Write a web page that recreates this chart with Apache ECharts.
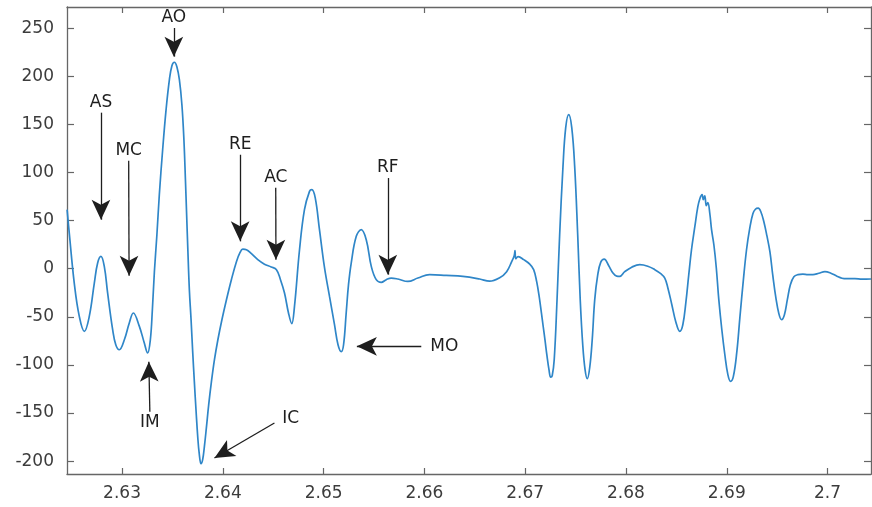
<!DOCTYPE html>
<html><head><meta charset="utf-8">
<script src="https://cdn.jsdelivr.net/npm/echarts@6/dist/echarts.min.js"></script>
<style>html,body{margin:0;padding:0;background:#fff}#c{width:872px;height:507px}</style>
</head><body><div id="c"></div>
<script>
// time (s)
const timeS = [
2.62455, 2.62477, 2.62526, 2.62576, 2.62626, 2.62675, 2.62725, 2.62758, 2.62791, 2.62824,
2.62857, 2.62907, 2.62938, 2.62973, 2.63023, 2.63072, 2.63112, 2.63172, 2.63221, 2.63254,
2.63281, 2.63301, 2.63321, 2.63346, 2.6337, 2.63403, 2.63437, 2.6347, 2.63495, 2.63519,
2.63544, 2.63569, 2.63594, 2.63614, 2.63629, 2.63641, 2.63653, 2.63668, 2.63685, 2.63701,
2.63718, 2.63735, 2.63751, 2.63766, 2.63784, 2.638, 2.63817, 2.63837, 2.6386, 2.63887,
2.63917, 2.63951, 2.63991, 2.64036, 2.64085, 2.64135, 2.6417, 2.64198, 2.64234, 2.64284,
2.64347, 2.64413, 2.6448, 2.64532, 2.64572, 2.64612, 2.64651, 2.64684, 2.64711,
2.64761, 2.6481, 2.6486, 2.64883, 2.64917, 2.64959, 2.65009, 2.65059, 2.65108, 2.65143,
2.65175, 2.65198, 2.65224, 2.65247, 2.65274, 2.65324, 2.65373, 2.65423, 2.65473, 2.65522,
2.65572, 2.65622, 2.65671, 2.65737, 2.65836, 2.65935, 2.66052, 2.66217, 2.66382, 2.66548,
2.66647, 2.66747, 2.66816, 2.66866, 2.66891, 2.66899, 2.66906, 2.6693, 2.66985, 2.67045,
2.67084, 2.67114, 2.67139, 2.67161, 2.67179, 2.67196, 2.67216, 2.67236, 2.67253, 2.67268,
2.67288, 2.67316, 2.67342, 2.67375, 2.67402, 2.67432, 2.67462, 2.67491, 2.67521, 2.67546,
2.67571, 2.67594, 2.67616, 2.6764, 2.67665, 2.6769, 2.6772, 2.6775, 2.67784, 2.67829,
2.67869, 2.67908, 2.67938, 2.67988, 2.68057, 2.68137, 2.68216, 2.68286, 2.68345, 2.68385,
2.68415, 2.68455, 2.68494, 2.68534, 2.68564, 2.68594, 2.68623, 2.6865, 2.68683, 2.68713,
2.68733, 2.68755, 2.68767, 2.68782, 2.68797, 2.68812, 2.68832, 2.68849, 2.68872, 2.68896,
2.68921, 2.68951, 2.68981, 2.69011, 2.69037, 2.69065, 2.691, 2.6913, 2.69165, 2.69196,
2.69229, 2.69259, 2.69284, 2.69312, 2.69338, 2.69368, 2.69398, 2.69428, 2.69457, 2.69487,
2.69517, 2.69544, 2.69572, 2.69601, 2.69631, 2.69666, 2.69706, 2.69755, 2.69805, 2.69855,
2.69914, 2.69974, 2.70033, 2.70093, 2.70143, 2.70192, 2.70272, 2.70341, 2.70431
];
// signal amplitude
const amplitude = [
61.3, 36.4, -14.9, -49.6, -65.1, -49.6, -14.9, 5.9, 12.8, 2.4,
-25.2, -63.4, -79, -84.2, -73.8, -56.4, -46, -59.9, -77.2, -87.6,
-73.8, -42.6, -3.1, 35.3, 76.9, 123.6, 165.2, 196.4, 210.9, 214.5,
209.9, 196.4, 170.4, 134, 92.5, 56.1, 19.7, -21.8, -53, -86.2,
-118.4, -148.6, -174.6, -192.2, -202.6, -198.4, -184.9, -165.2, -141.3, -117.4,
-94.5, -73.8, -53, -32.2, -11.4, 7.3, 16.6, 20.3, 19.7, 15.6,
9.4, 4.7, 1.8, -1, -11.4, -25.2, -45.7, -57.1, -39.2,
19.7, 61.3, 80.3, 82.1, 73.5, 40.5, 1, -29.1, -58.2, -79,
-86.2, -79, -46, -16.6, 5.9, 33.6, 40.5, 30.1, 2.4, -11.4,
-14.2, -11.4, -9.7, -10.7, -13.2, -9.7, -6.2, -7, -8, -10.7,
-13, -9.4, -3.1, 7.3, 13.5, 18.7, 10.4, 12.5, 9.4, 4.7,
-1, -13.5, -29.1, -46, -60.3, -73.8, -90.4, -104.9, -112.7, -111.2,
-94.5, -32.2, 35.3, 106.3, 146.5, 160, 146.5, 106.3, 35.3, -32.2,
-79, -104.9, -114.3, -102.9, -73.8, -32.2, -6.2, 6.8, 9.9, 3.1,
-4.2, -7.8, -8, -3.1, 1.6, 4.2, 2.6, -1, -5.2, -9.7,
-19.7, -37.4, -55.1, -65.1, -58.2, -35.3, -6.2, 19.7, 43.6, 64.4,
72.7, 76.9, 71.7, 75.8, 65.5, 68.6, 57.1, 40.5, 24.9, 1,
-32.2, -63.4, -89.4, -110.1, -117.1, -112.2, -86.2, -50.9, -11.4, 19.7,
42.6, 57.1, 61.8, 62.9, 59.2, 48.8, 34.3, 17.7, -7.3, -30.1,
-46.8, -53, -47.8, -32.2, -16.6, -8.3, -6.2, -5.7, -6.2, -6.2,
-4.7, -3.1, -4.7, -7.8, -9.9, -10.4, -10.4, -10.9, -10.7
];
const xTickValues = [2.63, 2.64, 2.65, 2.66, 2.67, 2.68, 2.69, 2.7];
const yTickValues = [-200, -150, -100, -50, 0, 50, 100, 150, 200, 250];
const xRange = [2.62454, 2.70431];
const yRange = [-213.3, 271.9];

// annotations: label, arrow tail (x,y), arrow tip (x,y)
const annLabels = ['AS', 'MC', 'AO', 'IM', 'IC', 'RE', 'AC', 'MO', 'RF'];
const annTailX = [2.62791, 2.63066, 2.63514, 2.63276, 2.64512, 2.64172, 2.64525, 2.65969, 2.65637];
const annTailY = [162.1, 112.2, 250.1, -148.6, -160.3, 118.4, 84.2, -80.7, 94.2];
const annHeadX = [2.62791, 2.6307, 2.63514, 2.63266, 2.63917, 2.64172, 2.64527, 2.6533, 2.65637];
const annHeadY = [50.9, -7.3, 220.3, -96.6, -196.7, 28.4, 9.4, -80.7, -6.2];

const FONT = 'DejaVu Sans';
const axisColor = '#666666';

const lineData = timeS.map((t, i) => [t, amplitude[i]]);
const annData = annLabels.map((name, i) => {
  const sideLabel = (name === 'MO' || name === 'IC');
  return [
    { coord: [annTailX[i], annTailY[i]], name: name,
      label: { distance: sideLabel ? 9 : 2 } },
    { coord: [annHeadX[i], annHeadY[i]] }
  ];
});

function xAx(pos, showLabel) {
  return {
    type: 'value', position: pos, min: xRange[0], max: xRange[1],
    axisLine: { show: true, onZero: false, lineStyle: { color: axisColor, width: 1.3 } },
    axisTick: { show: true, inside: true, length: 6, customValues: xTickValues,
      lineStyle: { color: axisColor, width: 1.2 } },
    axisLabel: { show: showLabel, customValues: xTickValues, margin: 11,
      fontFamily: FONT, fontSize: 17, color: '#3c3c3c' },
    splitLine: { show: false }
  };
}
function yAx(pos, showLabel) {
  return {
    type: 'value', position: pos, min: yRange[0], max: yRange[1],
    axisLine: { show: true, onZero: false, lineStyle: { color: axisColor, width: 1.3 } },
    axisTick: { show: true, inside: true, length: 7, customValues: yTickValues,
      lineStyle: { color: axisColor, width: 1.2 } },
    axisLabel: { show: showLabel, customValues: yTickValues, margin: 13,
      fontFamily: FONT, fontSize: 17, color: '#3c3c3c' },
    splitLine: { show: false }
  };
}

const chart = echarts.init(document.getElementById('c'), null, { renderer: 'canvas' });
chart.setOption({
  animation: false,
  backgroundColor: '#ffffff',
  grid: { left: 67, top: 7, right: 1, bottom: 33, containLabel: false },
  xAxis: [xAx('bottom', true), xAx('top', false)],
  yAxis: [yAx('left', true), yAx('right', false)],
  series: [{
    type: 'line',
    data: lineData,
    xAxisIndex: 0, yAxisIndex: 0,
    showSymbol: false,
    smooth: 0.4,
    clip: true,
    lineStyle: { color: '#2f86c8', width: 1.7 },
    markLine: {
      silent: true,
      animation: false,
      symbol: ['none', 'arrow'],
      symbolSize: [14, 20],
      precision: 5,
      lineStyle: { color: '#1e1e1e', width: 1.3, type: 'solid' },
      label: {
        show: true, position: 'start', formatter: '{b}',
        fontFamily: FONT, fontSize: 17, color: '#1e1e1e'
      },
      emphasis: { disabled: true },
      data: annData
    }
  }]
});
</script>
</body></html>
